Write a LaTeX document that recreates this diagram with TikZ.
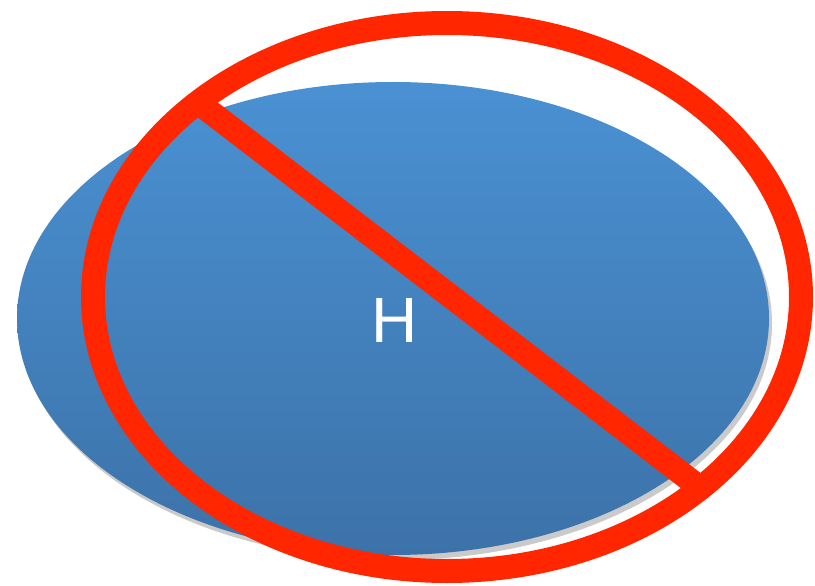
\documentclass[tikz,border=0pt]{standalone}
\usepackage{fontspec}
\setmainfont{Liberation Sans}
\usetikzlibrary{shapes.geometric,shadows}
\definecolor{bluetop}{RGB}{74,145,211}
\definecolor{bluebot}{RGB}{60,114,168}
\definecolor{nored}{RGB}{255,38,0}
\tikzset{
  disc/.style={ellipse, inner sep=0pt, outer sep=0pt, top color=bluetop, bottom color=bluebot,
    draw=none, text=white, font=\fontsize{64}{64}\selectfont,
    drop shadow={shadow xshift=3pt, shadow yshift=-5pt, opacity=0.35, fill=black!60}},
  ring/.style={ellipse, draw=nored, line width=24pt, inner sep=0pt, outer sep=0pt},
  bar/.style={draw=nored, line width=24pt}
}
\begin{document}
\begin{tikzpicture}[x=1pt,y=-1pt]
\useasboundingbox (0,0) rectangle (815,586);
\node[disc, minimum width=752pt, minimum height=473pt] (blue) at (393,318.5) {};
\node[text=white, font=\fontsize{64}{64}\selectfont] (h) at (394.5,320.5) {H};
\node[ring, minimum width=708pt, minimum height=548pt] (no) at (447,297) {};
\draw[bar] (no.142.1) -- (no.-37.9);
\end{tikzpicture}
\end{document}
